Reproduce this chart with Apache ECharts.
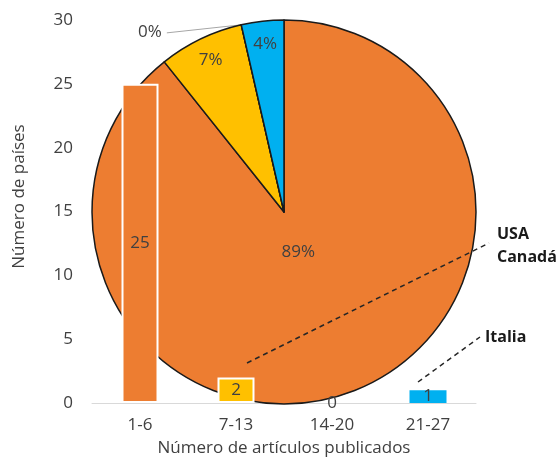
<!DOCTYPE html>
<html>
<head>
<meta charset="utf-8">
<script src="https://cdn.jsdelivr.net/npm/echarts@6/dist/echarts.min.js"></script>
<style>
html,body{margin:0;padding:0;background:#fff;}
#c{width:560px;height:461px;}
</style>
</head>
<body>
<div id="c"></div>
<script>
const categories = ['1-6', '7-13', '14-20', '21-27'];
const countries = [25, 2, 0, 1];
const sliceColors = ['#ED7D31', '#FFC000', '#A5A5A5', '#00B0F0'];
const yTicks = [0, 5, 10, 15, 20, 25, 30];
const xTitle = 'Número de artículos publicados';
const yTitle = 'Número de países';
const notes = [['USA', 'Canadá'], ['Italia']];

const FONT = '"Open Sans", "Noto Sans", sans-serif';
const TXT = '#404040';
const FS = 17;
const chart = echarts.init(document.getElementById('c'));

const pct = p => Math.round(p.percent) + '%';
const pieCenter = [284, 212];

const pieData = (showIdx) => categories.map((c, i) => ({
  name: c,
  value: countries[i],
  label: {show: showIdx.includes(i)},
  labelLine: {show: showIdx.includes(i)}
}));

chart.setOption({
  animation: false,
  textStyle: {fontFamily: FONT},
  grid: {left: 92, right: 84, top: 20, bottom: 58, outerBoundsMode: 'none', containLabel: false},
  xAxis: {
    type: 'category',
    data: categories,
    axisLine: {lineStyle: {color: '#d9d9d9', width: 1}},
    axisTick: {show: false},
    axisLabel: {color: TXT, fontSize: 17, margin: 14, fontFamily: FONT},
    name: xTitle,
    nameLocation: 'middle',
    nameGap: 37,
    nameTextStyle: {color: TXT, fontSize: 17, fontFamily: FONT}
  },
  yAxis: {
    type: 'value',
    min: yTicks[0],
    max: yTicks[yTicks.length - 1],
    interval: yTicks[1] - yTicks[0],
    axisLine: {show: false},
    axisTick: {show: false},
    splitLine: {show: false},
    axisLabel: {color: TXT, fontSize: 17, margin: 19, fontFamily: FONT},
    name: yTitle,
    nameLocation: 'middle',
    nameGap: 64,
    nameTextStyle: {color: TXT, fontSize: 17, fontFamily: FONT, padding: [0, 0, 0, 30]}
  },
  series: [
    {
      type: 'pie',
      z: 1,
      silent: true,
      center: pieCenter,
      radius: 192,
      startAngle: 90,
      clockwise: true,
      color: sliceColors,
      itemStyle: {borderColor: '#1a1a1a', borderWidth: 1.5},
      emphasis: {disabled: true},
      label: {
        show: true, position: 'outside', formatter: pct, color: TXT, fontSize: FS,
        fontFamily: FONT, alignTo: 'none'
      },
      labelLine: {show: true, length: 2, length2: 70, smooth: false, lineStyle: {color: '#a6a6a6', width: 1}},
      labelLayout: function (params) {
        const pts = params.labelLinePoints;
        if (!pts) return {};
        const last = pts[pts.length - 1];
        return {
          dx: -4, dy: 9,
          labelLinePoints: [pts[0], [last[0] - 4, last[1] + 10]]
        };
      },
      data: pieData([2])
    },
    {
      type: 'pie',
      z: 1,
      silent: true,
      center: pieCenter,
      radius: [140, 192],
      startAngle: 90,
      clockwise: true,
      itemStyle: {color: 'rgba(0,0,0,0)'},
      emphasis: {disabled: true},
      label: {show: true, position: 'inside', formatter: pct, color: TXT, fontSize: FS, fontFamily: FONT},
      labelLine: {show: false},
      data: pieData([1, 3])
    },
    {
      type: 'pie',
      z: 1,
      silent: true,
      center: pieCenter,
      radius: [0, 80],
      startAngle: 90,
      clockwise: true,
      itemStyle: {color: 'rgba(0,0,0,0)'},
      emphasis: {disabled: true},
      label: {show: true, position: 'inside', formatter: pct, color: TXT, fontSize: FS, fontFamily: FONT},
      labelLine: {show: false},
      data: pieData([0])
    },
    {
      type: 'bar',
      z: 5,
      silent: true,
      barWidth: 37,
      data: countries.map((v, i) => ({
        value: v,
        itemStyle: {color: sliceColors[i], borderColor: '#ffffff', borderWidth: (i === 3 || v === 0) ? 0 : 2}
      })),
      label: {show: true, position: 'inside', color: TXT, fontSize: FS, fontFamily: FONT}
    }
  ],
  graphic: [
    {type: 'line', z: 10, shape: {x1: 247, y1: 363, x2: 489, y2: 243},
      style: {stroke: '#262626', lineWidth: 1.5, lineDash: [5, 4]}},
    {type: 'line', z: 10, shape: {x1: 418, y1: 382, x2: 480, y2: 337},
      style: {stroke: '#262626', lineWidth: 1.5, lineDash: [5, 4]}},
    {type: 'text', z: 10, x: 497, y: 234,
      style: {text: notes[0][0], font: 'bold 16px ' + FONT, fill: '#1a1a1a', verticalAlign: 'middle'}},
    {type: 'text', z: 10, x: 497, y: 257,
      style: {text: notes[0][1], font: 'bold 16px ' + FONT, fill: '#1a1a1a', verticalAlign: 'middle'}},
    {type: 'text', z: 10, x: 485, y: 337,
      style: {text: notes[1][0], font: 'bold 16px ' + FONT, fill: '#1a1a1a', verticalAlign: 'middle'}}
  ]
});
</script>
</body>
</html>
